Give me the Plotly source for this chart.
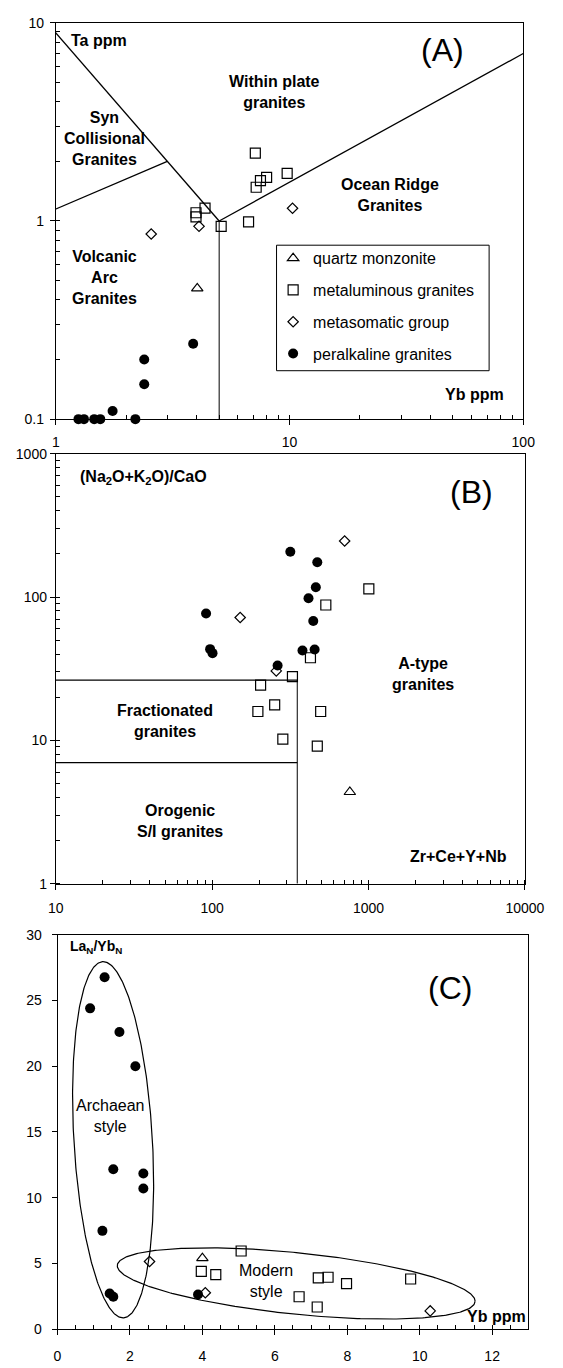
import numpy as np
import plotly.graph_objects as go

W, H = 563, 1368
FONT = "Liberation Sans, Arial, sans-serif"

# ---------------- Panel A : Ta vs Yb (log-log) ----------------
a_qm_yb = [4.03]
a_qm_ta = [0.457]
a_met_yb = [7.14, 9.77, 7.98, 7.51, 7.2, 4.35, 3.98, 3.98, 5.1, 6.68]
a_met_ta = [2.2, 1.74, 1.66, 1.6, 1.48, 1.16, 1.1, 1.05, 0.94, 0.99]
a_mso_yb = [10.3, 4.1, 2.56]
a_mso_ta = [1.16, 0.94, 0.86]
a_per_yb = [3.87, 2.39, 2.39, 1.75, 2.19, 1.25, 1.32, 1.46, 1.55]
a_per_ta = [0.24, 0.2, 0.15, 0.11, 0.1, 0.1, 0.1, 0.1, 0.1]

# discrimination boundaries (Pearce et al.)
a_wpg_x = [0.55, 3, 5]
a_wpg_y = [20, 2, 1]
a_syn_x = [0.55, 3]
a_syn_y = [0.85, 2]
a_org_x = [5, 100]
a_org_y = [1, 7]
a_vag_x = [5, 5]
a_vag_y = [0.05, 1]

# ---------------- Panel B : (Na2O+K2O)/CaO vs Zr+Ce+Y+Nb ----------------
b_qm_x = [759]
b_qm_y = [4.36]
b_met_x = [1004, 533, 425, 326, 204, 251, 196, 494, 283, 470]
b_met_y = [114, 88, 37.7, 27.8, 24.3, 17.7, 15.9, 15.9, 10.2, 9.1]
b_mso_x = [703, 151, 257]
b_mso_y = [246, 72, 30.5]
b_per_x = [316, 470, 460, 413, 91.4, 443, 97, 100.5, 378, 452, 262]
b_per_y = [207, 175, 117, 98, 76.7, 68, 43.3, 40.6, 42.4, 43, 33.3]

b_fg_x = [10, 350]
b_fg_y = [26.3, 26.3]
b_og_x = [10, 350]
b_og_y = [7, 7]
b_at_x = [350, 350]
b_at_y = [1, 26.3]

# ---------------- Panel C : LaN/YbN vs Yb ----------------
c_qm_x = [4.0]
c_qm_y = [5.39]
c_met_x = [5.07, 3.97, 4.37, 7.2, 7.47, 7.98, 9.75, 6.67, 7.17]
c_met_y = [5.94, 4.39, 4.14, 3.89, 3.94, 3.46, 3.81, 2.46, 1.68]
c_mso_x = [2.54, 4.08, 10.29]
c_mso_y = [5.14, 2.76, 1.38]
c_per_x = [1.3, 0.9, 1.71, 2.15, 1.54, 2.37, 2.37, 1.24, 1.44, 1.54, 3.88]
c_per_y = [26.77, 24.4, 22.6, 20.0, 12.16, 11.83, 10.7, 7.47, 2.71, 2.46, 2.63]

# ellipse fields: centre, conjugate semi-diameters (data units)
arch_centre = [1.535, 14.4]
arch_u = [-0.275, 13.55]
arch_v = [1.085, 0.0]
mod_centre = [6.59, 3.47]
mod_u = [4.94, -1.35]
mod_v = [0.0, 2.35]

series_names = ["quartz monzonite", "metaluminous granites",
                "metasomatic group", "peralkaline granites"]

# --------------------------------------------------------------
fig = go.Figure()

def line(x, y, ax, width=1.3):
    fig.add_trace(go.Scatter(x=x, y=y, mode="lines", xaxis=ax[0], yaxis=ax[1],
                             line=dict(color="black", width=width),
                             showlegend=False, hoverinfo="skip"))

def ellipse(c, u, v, ax):
    t = np.linspace(0, 2 * np.pi, 361)
    x = c[0] + u[0] * np.cos(t) + v[0] * np.sin(t)
    y = c[1] + u[1] * np.cos(t) + v[1] * np.sin(t)
    line(list(x), list(y), ax, width=1.2)

MK = {
    0: dict(symbol="triangle-up-open", size=10, color="black", line=dict(color="black", width=1.2)),
    1: dict(symbol="square-open", size=10, color="black", line=dict(color="black", width=1.2)),
    2: dict(symbol="diamond-open", size=8, color="black", line=dict(color="black", width=1.2)),
    3: dict(symbol="circle", size=10, color="black", line=dict(color="black", width=0)),
}

def pts(x, y, k, ax, legend):
    fig.add_trace(go.Scatter(x=x, y=y, mode="markers", xaxis=ax[0], yaxis=ax[1],
                             marker=MK[k], name=series_names[k],
                             legendgroup=series_names[k], showlegend=legend,
                             cliponaxis=False))

A = ("x", "y"); B = ("x2", "y2"); C = ("x3", "y3")

line(a_wpg_x, a_wpg_y, A)
line(a_syn_x, a_syn_y, A)
line(a_org_x, a_org_y, A)
line(a_vag_x, a_vag_y, A, width=1.0)
line(b_fg_x, b_fg_y, B)
line(b_og_x, b_og_y, B)
line(b_at_x, b_at_y, B, width=1.0)
ellipse(arch_centre, arch_u, arch_v, C)
ellipse(mod_centre, mod_u, mod_v, C)

pts(a_qm_yb, a_qm_ta, 0, A, True)
pts(a_met_yb, a_met_ta, 1, A, True)
pts(a_mso_yb, a_mso_ta, 2, A, True)
pts(a_per_yb, a_per_ta, 3, A, True)
pts(b_qm_x, b_qm_y, 0, B, False)
pts(b_met_x, b_met_y, 1, B, False)
pts(b_mso_x, b_mso_y, 2, B, False)
pts(b_per_x, b_per_y, 3, B, False)
pts(c_qm_x, c_qm_y, 0, C, False)
pts(c_met_x, c_met_y, 1, C, False)
pts(c_mso_x, c_mso_y, 2, C, False)
pts(c_per_x, c_per_y, 3, C, False)

# --------------------------------------------------------------
def axis(domain, anchor, **kw):
    d = dict(domain=domain, anchor=anchor, showline=True, linecolor="black", linewidth=1,
             mirror=True, showgrid=False, zeroline=False, ticks="outside", ticklen=5,
             tickcolor="black", tickwidth=1,
             tickfont=dict(family=FONT, size=14, color="black"))
    d.update(kw)
    return d

logminor = dict(ticks="inside", ticklen=4, tickcolor="black", dtick="D1", showgrid=False)

def dx(l, r):
    return [l / W, r / W]

def dy(t, b):
    return [1 - b / H, 1 - t / H]

layout_axes = dict(
    xaxis=axis(dx(50.3, 542.2), "y", type="log", range=[0, 2], dtick=1,
               exponentformat="none", minor=logminor, ticklabelstandoff=5),
    yaxis=axis(dy(15, 416), "x", type="log", range=[-1, 1], dtick=1,
               exponentformat="none", minor=logminor, ticklabelstandoff=3),
    xaxis2=axis(dx(50.3, 544), "y2", type="log", range=[1, 4], dtick=1,
                exponentformat="none", tickformat="d", minor=logminor,
                ticklabelstandoff=7),
    yaxis2=axis(dy(451, 886), "x2", type="log", range=[0, 3], dtick=1,
                exponentformat="none", tickformat="d", minor=logminor, ticklabelstandoff=0),
    xaxis3=axis(dx(52.1, 547.6), "y3", range=[0, 13], dtick=2,
                minor=dict(ticks="inside", ticklen=4, tickcolor="black", dtick=0.5, showgrid=False),
                ticklabelstandoff=9),
    yaxis3=axis(dy(937.7, 1336.7), "x3", range=[0, 30], dtick=5, ticklabelstandoff=7),
)

annotations = []

def ann(text, xp, yp, size=16, bold=True):
    annotations.append(dict(
        text=f"<b>{text}</b>" if bold else text,
        x=xp / W, y=1 - yp / H, xref="paper", yref="paper",
        xanchor="center", yanchor="middle", showarrow=False, align="center",
        font=dict(family=FONT, size=size, color="black")))

# Panel A labels
ann("Ta ppm", 96, 33)
ann("(A)", 457, 43, size=32, bold=False)
ann("Within plate<br>granites", 280, 85)
ann("Syn<br>Collisional<br>Granites", 101.6, 132)
ann("Ocean Ridge<br>Granites", 402, 189.5)
ann("Volcanic<br>Arc<br>Granites", 101.6, 273)
ann("Yb ppm", 491, 391)
# Panel B labels
ann("(Na<sub>2</sub>O+K<sub>2</sub>O)/CaO", 142.7, 475)
ann("(B)", 488, 490, size=32, bold=False)
ann("A-type<br>granites", 437, 674)
ann("Fractionated<br>granites", 165, 721.5)
ann("Orogenic<br>S/I granites", 180.6, 823)
ann("Zr+Ce+Y+Nb", 474, 859)
# Panel C labels
ann("La<sub>N</sub>/Yb<sub>N</sub>", 93, 950, size=14)
ann("(C)", 465, 992, size=32, bold=False)
ann("Archaean<br>style", 107.7, 1121.5, size=16, bold=False)
ann("Modern<br>style", 271.8, 1288, size=16, bold=False)
ann("Yb ppm", 514, 1324)

# frame drawn around the legend of panel A
legend_frame = [dict(type="rect", xref="paper", yref="paper",
                     x0=282.6 / W, x1=506.3 / W, y0=1 - 367 / H, y1=1 - 240 / H,
                     line=dict(color="black", width=1), fillcolor="rgba(0,0,0,0)", layer="above")]

fig.update_layout(
    width=W, height=H, margin=dict(l=0, r=0, t=0, b=0),
    paper_bgcolor="white", plot_bgcolor="white",
    font=dict(family=FONT, size=14, color="black"),
    showlegend=True,
    legend=dict(x=279 / W, y=1 - 236 / H, xanchor="left", yanchor="top",
                borderwidth=0, bgcolor="rgba(255,255,255,0)",
                font=dict(family=FONT, size=16, color="black"),
                tracegroupgap=8, traceorder="grouped", itemwidth=30),
    shapes=legend_frame,
    annotations=annotations,
    **layout_axes,
)

fig.write_html("out.html")
